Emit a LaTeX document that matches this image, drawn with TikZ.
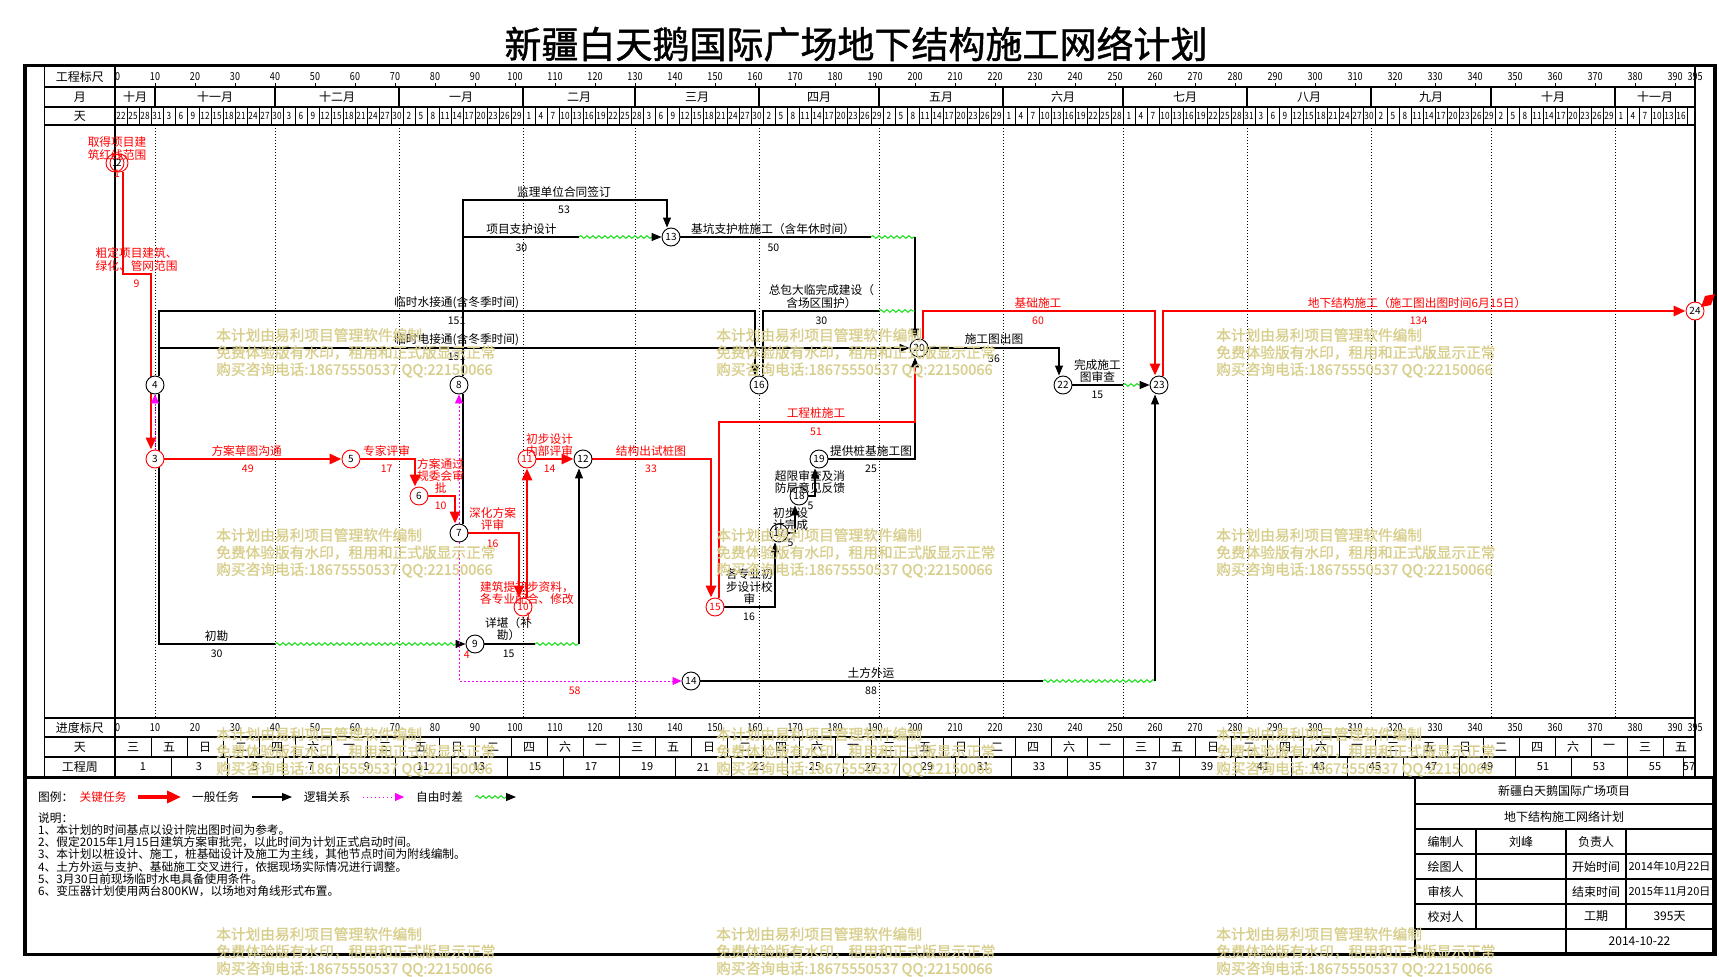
\documentclass[tikz,border=0pt]{standalone}
\usepackage{fontspec}
\setmainfont{Noto Sans CJK SC}
\newfontfamily\numfont{Noto Sans CJK SC}[FakeStretch=0.82]
\newfontfamily\boldcjk{Noto Sans CJK SC}[FakeBold=1.2]
\usetikzlibrary{arrows.meta, decorations.pathmorphing, backgrounds}
\definecolor{CritRed}{HTML}{FF0000}
\definecolor{LinkPink}{HTML}{FF00FF}
\definecolor{FloatGreen}{HTML}{00E000}
\definecolor{MarkGold}{RGB}{216,206,140}
\newcommand{\sz}[1]{\fontsize{#1}{#1}\selectfont}
\newcommand{\wkname}[1]{\ifcase#1 日\or 一\or 二\or 三\or 四\or 五\or 六\fi}
\pgfdeclarelayer{grid}
\pgfsetlayers{grid,background,main}
\tikzset{
    evnode/.style={circle, draw=black, fill=white, line width=0.9pt, inner sep=0pt, minimum size=18pt, font=\sz{10}},
    critnode/.style={evnode, draw=CritRed},
    task/.style={-{Triangle[length=10pt,width=8pt]}, line width=1.1pt},
    bare/.style={line width=1.1pt},
    crittask/.style={-{Triangle[length=12pt,width=10pt]}, line width=2.8pt, color=CritRed},
    critbare/.style={line width=2.8pt, color=CritRed},
    linkdep/.style={-{Triangle[length=9pt,width=8pt]}, line width=0.9pt, dash pattern=on 1.5pt off 2.5pt, color=LinkPink},
    floatwave/.style={decorate, decoration={snake, amplitude=1.4pt, segment length=6pt}, line width=0.9pt, color=FloatGreen},
    monthline/.style={line width=0.7pt, dash pattern=on 1pt off 2pt},
    rule/.style={line width=1.1pt},
    lbl/.style={align=center, inner sep=0pt, font=\fontsize{11.7}{12.4}\selectfont},
    critlbl/.style={lbl, text=CritRed},
    dur/.style={inner sep=0pt, font=\sz{10.5}},
    critdur/.style={dur, text=CritRed},
    cell/.style={inner sep=0pt, font=\sz{12}},
    scalenum/.style={inner sep=0pt, font=\numfont\sz{11}},
    daynum/.style={inner sep=0pt, font=\numfont\sz{10}},
    wmtext/.style={anchor=west, inner sep=0pt, text=MarkGold, font=\boldcjk\sz{14.7}},
}

\begin{document}
\begin{tikzpicture}[x=1pt, y=-1pt]
\useasboundingbox (0,0) rectangle (1719,977);

% Titolo
\node[font=\boldcjk\sz{37}] (title) at (856,44) {新疆白天鹅国际广场地下结构施工网络计划};

% Cornice e righe della tabella
\begin{pgfonlayer}{grid}
    \draw[line width=3.5pt] (25,65.5) rectangle (1715,954.5);
    \draw[line width=3pt] (25,777) -- (1715,777);
    \draw[rule] (44.5,65.5) -- (44.5,777) (115,65.5) -- (115,777) (1695,65.5) -- (1695,777);
    \foreach \ry in {87,107,125,718,737,757}
        \draw[rule] (44.5,\ry) -- (1695,\ry);
\end{pgfonlayer}

\node[cell] (h1) at (79.75,76.5) {工程标尺};
\node[cell] (h2) at (79.75,97) {月};
\node[cell] (h3) at (79.75,116) {天};
\node[cell] (h4) at (79.75,727.5) {进度标尺};
\node[cell] (h5) at (79.75,747) {天};
\node[cell] (h6) at (79.75,767) {工程周};

\begin{scope}[x=4pt, shift={(115pt,0pt)}]

    % Scala in giorni
    \begin{pgfonlayer}{grid}
        \node[scalenum, anchor=west] (top0) at (0,76.5) {0};
        \node[scalenum, anchor=west] (bot0) at (0,727.5) {0};
        \foreach \v in {10,20,...,390} {
            \node[scalenum] (top\v) at (\v,76.5) {\v};
            \node[scalenum] (bot\v) at (\v,727.5) {\v};
            \draw[line width=1pt] (\v,83) -- (\v,87);
        }
        \node[scalenum] (top395) at (395,76.5) {395};
        \node[scalenum] (bot395) at (395,727.5) {395};

        % Mesi
        \foreach \a/\b/\m in {0/10/十月, 10/40/十一月, 40/71/十二月, 71/102/一月, 102/130/二月, 130/161/三月, 161/191/四月, 191/222/五月, 222/252/六月, 252/283/七月, 283/314/八月, 314/344/九月, 344/375/十月, 375/395/十一月} {
            \node[cell] (m\a) at ({(\a+\b)/2},97) {\m};
            \draw[rule] (\b,87) -- (\b,107);
            \draw[monthline] (\b,125) -- (\b,718);
        }

        % Giorni
        \foreach \k in {3,6,...,393}
            \draw[line width=1pt] (\k,107) -- (\k,125);
        \foreach \s/\a/\b in {-21/22/31, 10/3/30, 40/3/30, 71/2/29, 102/1/28, 130/3/30, 161/2/29, 191/2/29, 222/1/28, 252/1/31, 283/3/30, 314/2/29, 344/2/29, 375/1/16} {
            \pgfmathtruncatemacro\c{\a+3}
            \foreach \n in {\a,\c,...,\b}
                \node[daynum] (dn\s-\n) at (\s+\n+0.5,116) {\n};
        }

        % Giorni della settimana e settimane
        \foreach \k in {0,...,43} {
            \pgfmathtruncatemacro\w{mod(3+2*\k,7)}
            \node[cell] (wk\k) at ({9*\k+4.5},747) {\wkname{\w}};
        }
        \foreach \k in {9,18,...,387}
            \draw[line width=1pt] (\k,737) -- (\k,757);
        \foreach \k in {0,...,28} {
            \pgfmathtruncatemacro\wn{2*\k+1}
            \pgfmathsetmacro\cx{min(14*\k+7,393.5)}
            \node[dur, font=\sz{11}] (wn\k) at (\cx,767) {\wn};
        }
        \foreach \k in {14,28,...,392}
            \draw[line width=1pt] (\k,757) -- (\k,777);
    \end{pgfonlayer}

    % Eventi
    \node[critnode, fill=none] (n1) at (0,163) {1};
    \node[critnode, fill=none] (n2) at (1,163) {2};
    \node[critnode] (n3) at (10,459) {3};
    \node[evnode] (n4) at (10,385) {4};
    \node[critnode] (n5) at (59,459) {5};
    \node[critnode] (n6) at (76,496) {6};
    \node[evnode] (n7) at (86,533) {7};
    \node[evnode] (n8) at (86,385) {8};
    \node[evnode] (n9) at (90,644) {9};
    \node[critnode, text=CritRed] (n10) at (102,607) {10};
    \node[critnode, text=CritRed] (n11) at (103,459) {11};
    \node[evnode] (n12) at (117,459) {12};
    \node[evnode] (n13) at (139,237) {13};
    \node[evnode] (n14) at (144,681) {14};
    \node[critnode, text=CritRed] (n15) at (150,607) {15};
    \node[evnode] (n16) at (161,385) {16};
    \node[evnode] (n17) at (166,533) {17};
    \node[evnode] (n18) at (171,496) {18};
    \node[evnode] (n19) at (176,459) {19};
    \node[evnode] (n20) at (201,348) {20};
    \node[evnode] (n22) at (237,385) {22};
    \node[evnode] (n23) at (261,385) {23};
    \node[critnode] (n24) at (395,311) {24};

    \begin{pgfonlayer}{background}
        % Attivita ordinarie
        \draw[task] ([xshift=4pt]n4.north) |- (160,311) -- ([xshift=-4pt]n16.north);
        \draw[task] ([xshift=4pt]n4.north) |- (n20);
        \draw[bare] ([xshift=4pt]n4.south) |- (40,644);
        \draw[floatwave] (40,644) -- (85.2,644);
        \draw[task] (85.2,644) -- (n9);
        \draw[task] ([xshift=4pt]n8.north) |- (138,200) -- ([xshift=-4pt]n13.north);
        \draw[bare] ([xshift=4pt]n8.north) |- (116,237);
        \draw[floatwave] (116,237) -- (134.2,237);
        \draw[task] (134.2,237) -- (n13);
        \draw[bare] ([xshift=4pt]n8.south) -- ([xshift=4pt]n7.north);
        \draw[bare] (n13) -- (189,237);
        \draw[floatwave] (189,237) -- (200,237);
        \draw[task] (200,237) -- ([xshift=-4pt]n20.north);
        \draw[bare] ([xshift=4pt]n16.north) |- (191,311);
        \draw[floatwave] (191,311) -- (200,311);
        \draw[task] (n20) -| ([xshift=-4pt]n22.north);
        \draw[bare] (n22) -- (252,385);
        \draw[floatwave] (252,385) -- (256.2,385);
        \draw[task] (256.2,385) -- (n23);
        \draw[bare] (n14) -- (232,681);
        \draw[floatwave] (232,681) -- (260,681);
        \draw[task] (260,681) -- ([xshift=-4pt]n23.south);
        \draw[bare] (n9) -- (105,644);
        \draw[floatwave] (105,644) -- (116,644);
        \draw[task] (116,644) -- ([xshift=-4pt]n12.south);
        \draw[task] (n15) -| ([xshift=-4pt]n17.south);
        \draw[task] (n17) -| ([xshift=-4pt]n18.south);
        \draw[task] (n18) -| ([xshift=-4pt]n19.south);
        \draw[task] (n19) -| ([xshift=-4pt]n20.south);

        % Percorso critico
        \draw[crittask] ([xshift=4pt]n2.south) |- (9,274) -- ([xshift=-4pt]n3.north);
        \draw[crittask] (n3) -- (n5);
        \draw[crittask] (n5) -| ([xshift=-4pt]n6.north);
        \draw[crittask] (n6) -| ([xshift=-4pt]n7.north);
        \draw[crittask] (n7) -| ([xshift=-4pt]n10.north);
        \draw[crittask] ([xshift=4pt]n10.north) -- (n11);
        \draw[crittask] (n11) -- (n12);
        \draw[crittask] (n12) -| ([xshift=-4pt]n15.north);
        \draw[critbare] ([xshift=4pt]n15.north) |- (200,422) -- (200,367);
        \draw[crittask] ([xshift=4pt]n20.north) |- (260,311) -- ([xshift=-4pt]n23.north);
        \draw[crittask] ([xshift=4pt]n23.north) |- (n24);

        % Relazioni logiche
        \draw[linkdep] (n3) -- (n4);
        \draw[linkdep] (n7) -- (n8);
        \draw[linkdep] (n7) |- (n14);
    \end{pgfonlayer}

    % Etichette critiche
    \node[critlbl] (t1) at (0.5,148.5) {取得项目建\\筑红线范围};
    \node[critdur] (u1) at (0.5,174) {1};
    \node[critlbl] (t2) at (5.4,259.5) {粗定项目建筑、\\绿化、管网范围};
    \node[critdur] (u2) at (5.4,284) {9};
    \node[critlbl] (t3) at (32.9,450.7) {方案草图沟通};
    \node[critdur] (u3) at (33.2,469) {49};
    \node[critlbl] (t5) at (67.9,450.7) {专家评审};
    \node[critdur] (u5) at (67.9,469) {17};
    \node[critlbl] (t6) at (81.4,476) {方案通过\\规委会审\\批};
    \node[critdur] (u6) at (81.4,506) {10};
    \node[critlbl] (t7) at (94.4,519) {深化方案\\评审};
    \node[critdur] (u7) at (94.4,543.3) {16};
    \node[critlbl] (t10) at (103,593) {建筑提初步资料，\\各专业配合、修改};
    \node[critdur] (u10) at (103.3,617) {1};
    \node[critlbl] (t11) at (108.65,445.2) {初步设计\\内部评审};
    \node[critdur] (u11) at (108.65,469) {14};
    \node[critlbl] (t12) at (134,450.7) {结构出试桩图};
    \node[critdur] (u12) at (134,469) {33};
    \node[critlbl] (t15) at (175.25,413.3) {工程桩施工};
    \node[critdur] (u15) at (175.25,432) {51};
    \node[critlbl] (t20) at (230.75,302.7) {基础施工};
    \node[critdur] (u20) at (230.75,321) {60};
    \node[critlbl] (t23) at (325.5,302.7) {地下结构施工（施工图出图时间6月15日）};
    \node[critdur] (u23) at (325.9,321) {134};
    \node[critdur] (r4) at (87.95,655) {4};
    \node[critdur] (r58) at (114.9,691) {58};

    % Etichette ordinarie
    \node[lbl] (t4a) at (85.4,302.7) {临时水接通(含冬季时间)};
    \node[dur] (u4a) at (85.4,320.7) {151};
    \node[lbl] (t4b) at (85.4,340) {临时电接通(含冬季时间)};
    \node[dur] (u4b) at (85.4,357.3) {151};
    \node[lbl] (t4c) at (25.4,636) {初勘};
    \node[dur] (u4c) at (25.4,654) {30};
    \node[lbl] (t8a) at (112.25,191.7) {监理单位合同签订};
    \node[dur] (u8a) at (112.25,210) {53};
    \node[lbl] (t8b) at (101.6,229) {项目支护设计};
    \node[dur] (u8b) at (101.6,247.3) {30};
    \node[lbl] (t9) at (98.4,629.2) {详堪（补\\勘）};
    \node[dur] (u9) at (98.4,654) {15};
    \node[lbl] (t13) at (164.5,229) {基坑支护桩施工（含年休时间）};
    \node[dur] (u13) at (164.6,247.3) {50};
    \node[lbl] (t14) at (189,672.7) {土方外运};
    \node[dur] (u14) at (189,691) {88};
    \node[lbl] (t15b) at (158.6,586.7) {各专业初\\步设计校\\审};
    \node[dur] (u15b) at (158.5,617) {16};
    \node[lbl] (t16) at (176.6,296.7) {总包大临完成建设（\\含场区围护）};
    \node[dur] (u16) at (176.6,321) {30};
    \node[lbl] (t17) at (168.9,519) {初步设\\计完成};
    \node[dur] (u17) at (168.9,543.3) {5};
    \node[lbl] (t18) at (173.75,481.9) {超限审查及消\\防局意见反馈};
    \node[dur] (u18) at (173.9,506) {5};
    \node[lbl] (t19) at (189,450.7) {提供桩基施工图};
    \node[dur] (u19) at (189,469) {25};
    \node[lbl] (t20b) at (219.75,339.3) {施工图出图};
    \node[dur] (u20b) at (219.75,358.3) {36};
    \node[lbl] (t22) at (245.6,371) {完成施工\\图审查};
    \node[dur] (u22) at (245.6,395) {15};
\end{scope}

% Bandierina finale
\fill[CritRed] (1701,307) -- (1705,296) -- (1715,294) -- (1711,305) -- cycle;

% Legenda
\node[lbl, anchor=west] (lg0) at (38,797) {图例：};
\node[lbl, anchor=west, text=CritRed] (lg1) at (79.5,797) {关键任务};
\node[lbl, anchor=west] (lg2) at (192,797) {一般任务};
\node[lbl, anchor=west] (lg3) at (303.6,797) {逻辑关系};
\node[lbl, anchor=west] (lg4) at (416,797) {自由时差};
\coordinate (lg5) at (516,797);
\draw[crittask, line width=4pt, -{Triangle[length=14pt,width=12pt]}] ([xshift=11.7pt]lg1.east) -- ([xshift=-11pt]lg2.west);
\draw[task] ([xshift=13pt]lg2.east) -- ([xshift=-11.6pt]lg3.west);
\draw[linkdep] ([xshift=12pt]lg3.east) -- ([xshift=-12pt]lg4.west);
\draw[floatwave] ([xshift=12pt]lg4.east) -- ([xshift=-10pt]lg5);
\draw[task] ([xshift=-10pt]lg5) -- (lg5);

% Note
\node[anchor=north west, align=left, inner sep=0pt, font=\fontsize{11.7}{12.3}\selectfont] (notes) at (38,812) {说明：\\
1、本计划的时间基点以设计院出图时间为参考。\\
2、假定2015年1月15日建筑方案审批完，以此时间为计划正式启动时间。\\
3、本计划以桩设计、施工，桩基础设计及施工为主线，其他节点时间为附线编制。\\
4、土方外运与支护、基础施工交叉进行，依据现场实际情况进行调整。\\
5、3月30日前现场临时水电具备使用条件。\\
6、变压器计划使用两台800KW，以场地对角线形式布置。};

% Cartiglio
\draw[line width=2pt] (1415,778) rectangle (1713,953);
\foreach \ry in {804,829,854,879,904,929}
    \draw[rule] (1415,\ry) -- (1713,\ry);
\draw[rule] (1476,829) -- (1476,929) (1626,829) -- (1626,929) (1566,829) -- (1566,953);
\node[cell] (tb1) at (1564,791) {新疆白天鹅国际广场项目};
\node[cell] (tb2) at (1564,816.5) {地下结构施工网络计划};
\node[cell] (tb3) at (1445.5,841.5) {编制人};
\node[cell] (tb4) at (1521,841.5) {刘峰};
\node[cell] (tb5) at (1596,841.5) {负责人};
\node[cell] (tb6) at (1445.5,866.5) {绘图人};
\node[cell] (tb7) at (1596,866.5) {开始时间};
\node[cell, font=\sz{11}] (tb8) at (1669.5,866.5) {2014年10月22日};
\node[cell] (tb9) at (1445.5,891.5) {审核人};
\node[cell] (tb10) at (1596,891.5) {结束时间};
\node[cell, font=\sz{11}] (tb11) at (1669.5,891.5) {2015年11月20日};
\node[cell] (tb12) at (1445.5,916.5) {校对人};
\node[cell] (tb13) at (1596,916.5) {工期};
\node[cell] (tb14) at (1669.5,916.5) {395天};
\node[cell] (tb15) at (1639.5,941) {2014-10-22};

% Filigrana
\foreach \wx in {216,716,1216}
    \foreach \wy in {335,535,734,934} {
        \node[wmtext] (wm\wx-\wy-a) at (\wx,\wy) {本计划由易利项目管理软件编制};
        \node[wmtext] (wm\wx-\wy-b) at (\wx,\wy+17.5) {免费体验版有水印，租用和正式版显示正常};
        \node[wmtext] (wm\wx-\wy-c) at (\wx,\wy+35) {购买咨询电话:18675550537 QQ:22150066};
    }
\end{tikzpicture}
\end{document}
